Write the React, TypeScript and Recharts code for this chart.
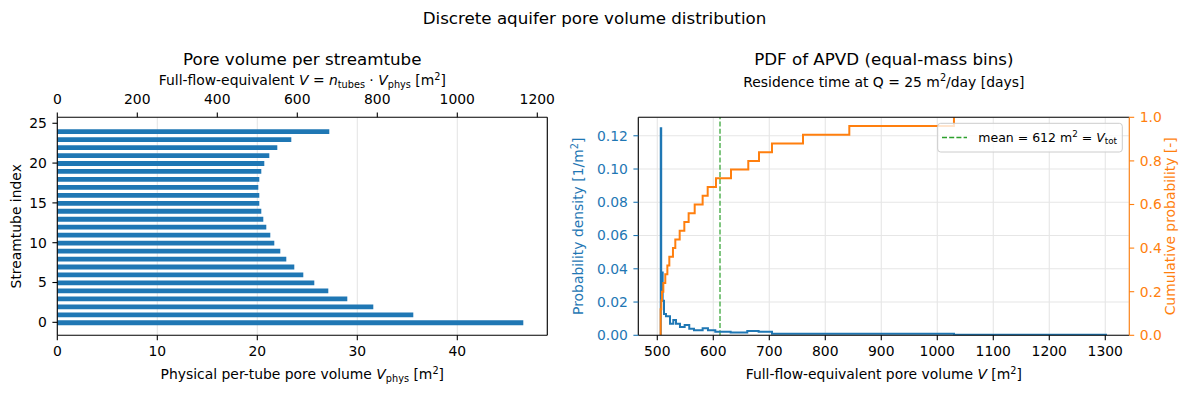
import React from 'react';
import { ComposedChart, Bar, Line, XAxis, YAxis, CartesianGrid, ReferenceLine } from 'recharts';

// ---------- data ----------
const tubeIndex = [0, 1, 2, 3, 4, 5, 6, 7, 8, 9, 10, 11, 12, 13, 14, 15, 16, 17, 18, 19, 20, 21, 22, 23, 24];
const physVolume = [46.6, 35.6, 31.6, 29.0, 27.1, 25.7, 24.6, 23.7, 22.9, 22.3, 21.7, 21.3, 20.9, 20.6, 20.4, 20.2, 20.2, 20.1, 20.2, 20.4, 20.7, 21.2, 22.0, 23.4, 27.2];
const nTubes = 25;
const flowRate = 25;

const physTicks = [0, 10, 20, 30, 40];
const fullTicks = [0, 200, 400, 600, 800, 1000, 1200];
const indexTicks = [0, 5, 10, 15, 20, 25];

const pdfEdges = [506.2, 506.2, 507.0, 509.6, 512.0, 515.5, 522.7, 528.6, 533.4, 540.5, 548.9, 557.1, 565.5, 581.0, 590.5, 603.6, 631.0, 660.7, 681.0, 704.8, 1029.8, 1303.0];
const pdfDensity = [0, 0.1245, 0.0377, 0.0208, 0.0128, 0.0114, 0.0070, 0.0092, 0.0070, 0.0050, 0.0062, 0.0039, 0.0031, 0.0043, 0.0030, 0.0022, 0.0017, 0.0026, 0.0022, 0.0009, 0.0003, 0.0003];

const cdfEdges = [506.0, 506.0, 507.2, 508.4, 510.8, 514.3, 518.0, 521.5, 528.0, 532.2, 540.0, 548.3, 556.0, 566.8, 581.0, 590.0, 604.8, 631.6, 662.5, 681.6, 704.8, 760.2, 842.9, 1029.8];
const cdfProb = [0, 0.12, 0.16, 0.20, 0.24, 0.28, 0.32, 0.36, 0.40, 0.44, 0.48, 0.52, 0.56, 0.60, 0.64, 0.68, 0.72, 0.76, 0.80, 0.84, 0.88, 0.92, 0.96, 1.0];

const volumeTicks = [500, 600, 700, 800, 900, 1000, 1100, 1200, 1300];
const residenceTicks = [20, 25, 30, 35, 40, 45, 50];
const densityTicks = [0, 0.02, 0.04, 0.06, 0.08, 0.1, 0.12];
const probTicks = [0, 0.2, 0.4, 0.6, 0.8, 1.0];
const meanVolume = 612;

// ---------- derived tables ----------
const barData = tubeIndex.map((idx, i) => ({ idx, vphys: physVolume[i] }));
const pdfData = pdfEdges.map((v, i) => ({ v, d: pdfDensity[i] }));
const cdfData = cdfEdges.map((v, i) => ({ v, p: cdfProb[i] }));

// ---------- layout / style ----------
const PHYS_DOMAIN: [number, number] = [0, 49];
const FULL_DOMAIN: [number, number] = [PHYS_DOMAIN[0] * nTubes, PHYS_DOMAIN[1] * nTubes];
const INDEX_DOMAIN: [number, number] = [-1.63, 25.75];
const V_DOMAIN: [number, number] = [466.1, 1342.9];
const T_DOMAIN: [number, number] = [V_DOMAIN[0] / flowRate, V_DOMAIN[1] / flowRate];
const D_DOMAIN: [number, number] = [0, 0.1311];
const P_DOMAIN: [number, number] = [0, 1];

const C0 = '#1f77b4';
const C1 = '#ff7f0e';
const C2 = '#2ca02c';
const FONT = "'DejaVu Sans', sans-serif";
const FS = 13.9;
const TICK_LEN = 4.9;
const AX = { stroke: '#000', strokeWidth: 1.1 };
const GRID = '#e6e6e6';

type Seg = { t: string; it?: boolean; sub?: boolean; sup?: boolean };
function segs(list: Seg[], fs: number) {
  let shift = 0;
  return list.map((s, i) => {
    const target = s.sub ? 0.22 * fs : s.sup ? -0.38 * fs : 0;
    const dy = target - shift;
    shift = target;
    return (
      <tspan
        key={i}
        dy={dy}
        fontStyle={s.it ? 'italic' : 'normal'}
        fontSize={s.sub || s.sup ? fs * 0.7 : fs}
      >
        {s.t}
      </tspan>
    );
  });
}

function MText({ x, y, list, fs = FS, fill = '#000', rotate = false, anchor = 'middle' }: any) {
  return (
    <text
      x={x}
      y={y}
      textAnchor={anchor}
      fill={fill}
      fontSize={fs}
      fontFamily={FONT}
      style={{ whiteSpace: 'pre' }}
      transform={rotate ? `rotate(-90 ${x} ${y})` : undefined}
    >
      {segs(list, fs)}
    </text>
  );
}

const tickStyle = (fill: string) => ({ fontSize: FS, fill, fontFamily: FONT });

export default function App() {
  return (
    <div style={{ position: 'absolute', left: 0, top: 0, width: 1189, height: 397, background: '#fff', fontFamily: FONT }}>
      <style>{'body{margin:0}'}</style>

      {/* Left panel: pore volume per streamtube */}
      <div style={{ position: 'absolute', left: 0, top: 0 }}>
        <ComposedChart
          width={590}
          height={397}
          layout="vertical"
          data={barData}
          margin={{ left: 17.3, right: 42.7, top: 87.3, bottom: 31.7 }}
        >
          <CartesianGrid xAxisId="b" yAxisId="l" horizontal={false} stroke={GRID} strokeWidth={1.1} />
          <XAxis
            xAxisId="b"
            type="number"
            orientation="bottom"
            domain={PHYS_DOMAIN}
            allowDataOverflow
            ticks={physTicks}
            interval={0}
            height={30}
            tickSize={TICK_LEN}
            tickMargin={5.5}
            axisLine={AX}
            tickLine={AX}
            tick={tickStyle('#000')}
          />
          <XAxis
            xAxisId="t"
            type="number"
            orientation="top"
            domain={FULL_DOMAIN}
            allowDataOverflow
            ticks={fullTicks}
            interval={0}
            height={30}
            tickSize={TICK_LEN}
            tickMargin={8}
            axisLine={AX}
            tickLine={AX}
            tick={tickStyle('#000')}
          />
          <YAxis
            yAxisId="l"
            type="number"
            dataKey="idx"
            domain={INDEX_DOMAIN}
            allowDataOverflow
            reversed
            ticks={indexTicks}
            interval={0}
            width={40}
            tickSize={TICK_LEN}
            tickMargin={5.5}
            axisLine={AX}
            tickLine={AX}
            tick={tickStyle('#000')}
          />
          <Bar
            xAxisId="b"
            yAxisId="l"
            dataKey="vphys"
            fill={C0}
            barSize={4.8}
            isAnimationActive={false}
          />
          <ReferenceLine xAxisId="b" yAxisId="l" x={PHYS_DOMAIN[1]} stroke="#000" strokeWidth={1.1} />
        </ComposedChart>
      </div>

      {/* Right panel: PDF / CDF */}
      <div style={{ position: 'absolute', left: 590, top: 0 }}>
        <ComposedChart
          width={599}
          height={397}
          margin={{ left: 3.3, right: 14.7, top: 87.3, bottom: 31.7 }}
        >
          <CartesianGrid xAxisId="b" yAxisId="l" stroke={GRID} strokeWidth={1.1} />
          <XAxis
            xAxisId="b"
            type="number"
            dataKey="v"
            orientation="bottom"
            domain={V_DOMAIN}
            allowDataOverflow
            ticks={volumeTicks}
            interval={0}
            height={30}
            tickSize={TICK_LEN}
            tickMargin={5.5}
            axisLine={AX}
            tickLine={AX}
            tick={tickStyle('#000')}
          />
          <XAxis
            xAxisId="t"
            type="number"
            orientation="top"
            domain={T_DOMAIN}
            allowDataOverflow
            ticks={residenceTicks}
            interval={0}
            height={30}
            tickSize={TICK_LEN}
            tickMargin={8}
            axisLine={AX}
            tickLine={AX}
            tick={tickStyle('#000')}
          />
          <YAxis
            yAxisId="l"
            type="number"
            orientation="left"
            domain={D_DOMAIN}
            allowDataOverflow
            ticks={densityTicks}
            interval={0}
            width={45}
            tickSize={TICK_LEN}
            tickMargin={5.5}
            axisLine={AX}
            tickLine={{ stroke: C0, strokeWidth: 1.1 }}
            tick={tickStyle(C0)}
            tickFormatter={(v: number) => v.toFixed(2)}
          />
          <YAxis
            yAxisId="r"
            type="number"
            orientation="right"
            domain={P_DOMAIN}
            allowDataOverflow
            ticks={probTicks}
            interval={0}
            width={45}
            tickSize={TICK_LEN}
            tickMargin={5.5}
            axisLine={{ stroke: C1, strokeWidth: 1.1 }}
            tickLine={{ stroke: C1, strokeWidth: 1.1 }}
            tick={tickStyle(C1)}
            tickFormatter={(v: number) => v.toFixed(1)}
          />
          <ReferenceLine
            xAxisId="b"
            yAxisId="l"
            x={meanVolume}
            stroke={C2}
            strokeWidth={1.2}
            strokeDasharray="5 2.2"
          />
          <Line
            xAxisId="b"
            yAxisId="l"
            data={pdfData}
            dataKey="d"
            type="stepAfter"
            stroke={C0}
            strokeWidth={2}
            dot={false}
            activeDot={false}
            isAnimationActive={false}
          />
          <Line
            xAxisId="b"
            yAxisId="r"
            data={cdfData}
            dataKey="p"
            type="stepAfter"
            stroke={C1}
            strokeWidth={2}
            dot={false}
            activeDot={false}
            isAnimationActive={false}
          />
        </ComposedChart>
      </div>

      {/* Titles, axis labels, legend */}
      <svg width={1189} height={397} style={{ position: 'absolute', left: 0, top: 0, pointerEvents: 'none' }}>
        <MText x={594.5} y={24} fs={16.7} list={[{ t: 'Discrete aquifer pore volume distribution' }]} />

        <MText x={302.3} y={64.5} fs={16.7} list={[{ t: 'Pore volume per streamtube' }]} />
        <MText
          x={302.3}
          y={85}
          list={[
            { t: 'Full-flow-equivalent ' },
            { t: 'V', it: true },
            { t: ' = ' },
            { t: 'n', it: true },
            { t: 'tubes', sub: true },
            { t: ' · ' },
            { t: 'V', it: true },
            { t: 'phys', sub: true },
            { t: ' [m' },
            { t: '2', sup: true },
            { t: ']' },
          ]}
        />
        <MText
          x={302.3}
          y={379}
          list={[
            { t: 'Physical per-tube pore volume ' },
            { t: 'V', it: true },
            { t: 'phys', sub: true },
            { t: ' [m' },
            { t: '2', sup: true },
            { t: ']' },
          ]}
        />
        <MText x={21.5} y={226.3} rotate list={[{ t: 'Streamtube index' }]} />

        <MText x={883.8} y={64.5} fs={16.7} list={[{ t: 'PDF of APVD (equal-mass bins)' }]} />
        <MText
          x={883.8}
          y={86.7}
          list={[{ t: 'Residence time at Q = 25 m' }, { t: '2', sup: true }, { t: '/day [days]' }]}
        />
        <MText
          x={883.8}
          y={379}
          list={[
            { t: 'Full-flow-equivalent pore volume ' },
            { t: 'V', it: true },
            { t: ' [m' },
            { t: '2', sup: true },
            { t: ']' },
          ]}
        />
        <MText
          x={583}
          y={226.3}
          rotate
          fill={C0}
          list={[{ t: 'Probability density [1/m' }, { t: '2', sup: true }, { t: ']' }]}
        />
        <MText x={1175.3} y={226.3} rotate fill={C1} list={[{ t: 'Cumulative probability [-]' }]} />

        {/* legend */}
        <rect x={937.7} y={123.3} width={184.6} height={28.7} rx={3} fill="#fff" fillOpacity={0.8} stroke="#cccccc" strokeWidth={1} />
        <line x1={942} y1={137.5} x2={967} y2={137.5} stroke={C2} strokeWidth={1.4} strokeDasharray="5 2.2" />
        <MText
          x={978.3}
          y={141.7}
          fs={12.5}
          anchor="start"
          list={[
            { t: 'mean = 612 m' },
            { t: '2', sup: true },
            { t: ' = ' },
            { t: 'V', it: true },
            { t: 'tot', sub: true },
          ]}
        />
      </svg>
    </div>
  );
}
